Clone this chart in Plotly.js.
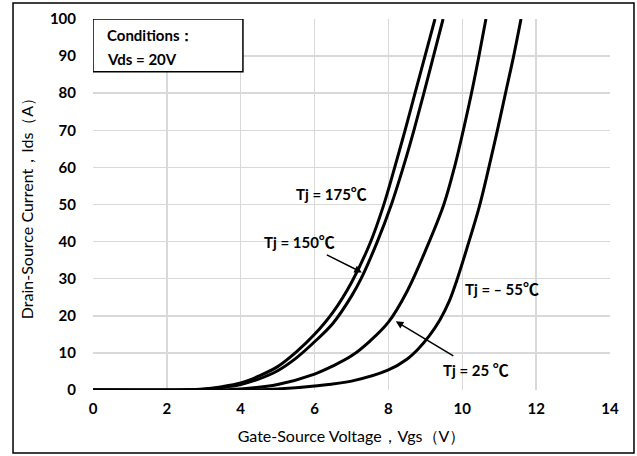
<!DOCTYPE html>
<html>
<head>
<meta charset="utf-8">
<script src="https://cdn.plot.ly/plotly-3.0.1.min.js"></script>
<style>html,body{margin:0;padding:0;background:#fff;}#chart{width:637px;height:456px;}</style>
</head>
<body>
<div id="chart"></div>
<script>
// Series: Vgs (V) vs Ids (A) for each junction temperature
var vgs175 = [0, 2, 2.5, 3, 3.5, 4, 4.5, 5, 5.5, 6, 6.5, 7, 7.5, 7.86, 8.17, 8.45, 8.72, 8.99, 9.26];
var ids175 = [0, 0, 0.05, 0.3, 0.9, 1.9, 3.8, 6.3, 10.2, 15, 21, 29, 39.5, 49.5, 60, 70, 80, 90, 100];
var vgs150 = [0, 2, 2.5, 3, 3.5, 4, 4.5, 5, 5.5, 6, 6.5, 7, 7.26, 7.7, 8.08, 8.4, 8.69, 8.96, 9.22, 9.48];
var ids150 = [0, 0, 0.03, 0.2, 0.7, 1.5, 3.0, 5.2, 8.6, 13, 18, 25.3, 30, 40, 50, 60, 70, 80, 90, 100];
var vgs25 = [0, 3, 4, 5, 6, 6.5, 7, 7.5, 8, 8.5, 9, 9.5, 9.8, 10.05, 10.27, 10.46, 10.64];
var ids25 = [0, 0, 0.3, 1.5, 4.3, 6.5, 9.2, 13.2, 18.3, 26.5, 37.5, 50, 60.5, 71, 81, 90.5, 100];
var vgsM55 = [0, 4, 5, 6, 7, 8, 8.5, 8.8, 9.1, 9.4, 9.65, 9.85, 10.15, 10.45, 10.72, 10.95, 11.17, 11.39, 11.59];
var idsM55 = [0, 0, 0.3, 1.1, 2.4, 5.4, 8.3, 11, 14.5, 19, 24, 29.5, 39, 49, 60, 70, 80, 90, 100];

var xTicks = [0, 2, 4, 6, 8, 10, 12, 14];
var yTicks = [0, 10, 20, 30, 40, 50, 60, 70, 80, 90, 100];

var labelFont = "Lato, 'Open Sans', sans-serif";
var lineStyle = {color: '#000', width: 3, shape: 'spline', smoothing: 1};

function tr(x, y) {
  return {x: x, y: y, mode: 'lines', line: lineStyle, showlegend: false, hoverinfo: 'skip'};
}

var data = [tr(vgs175, ids175), tr(vgs150, ids150), tr(vgs25, ids25), tr(vgsM55, idsM55)];

var annFont = {family: labelFont, size: 15, color: '#000', weight: 'bold'};
var deg = "<span style=\"font-family:'Noto Sans CJK SC';font-size:16px\">℃</span>";

var layout = {
  width: 637, height: 456,
  margin: {l: 93, r: 27, t: 19, b: 66},
  paper_bgcolor: '#fff', plot_bgcolor: '#fff',
  font: {family: labelFont, color: '#000'},
  xaxis: {
    range: [0, 14], tickvals: xTicks, ticktext: xTicks.map(String),
    showgrid: true, gridcolor: '#d9d9d9', gridwidth: 1.5,
    zeroline: false, showline: false, ticks: '',
    tickfont: {family: labelFont, size: 15, weight: 'bold'},
    ticklabelstandoff: 8,
    title: {text: 'Gate-Source Voltage，Vgs（V）', font: {family: labelFont, size: 16}, standoff: 14}
  },
  yaxis: {
    range: [0, 100], tickvals: yTicks, ticktext: yTicks.map(String),
    showgrid: true, gridcolor: '#d9d9d9', gridwidth: 1.5,
    zeroline: false, showline: false, ticks: '',
    tickfont: {family: labelFont, size: 15, weight: 'bold'},
    ticklabelstandoff: 16,
    title: {text: 'Drain-Source Current，Ids（A）', font: {family: labelFont, size: 16}, standoff: 12}
  },
  shapes: [
    {type: 'rect', xref: 'paper', yref: 'paper', x0: -0.1547, x1: 1.0464, y0: -0.1698, y1: 1.0431,
     line: {color: '#000', width: 1.5}, fillcolor: 'rgba(0,0,0,0)', layer: 'above'},
    {type: 'rect', xref: 'x', yref: 'y', x0: 0, x1: 4.06, y0: 85.8, y1: 100,
     line: {color: '#000', width: 1.5}, fillcolor: '#fff', layer: 'above'}
  ],
  annotations: [
    {xref: 'paper', yref: 'paper', x: (105 - 93) / 517, y: (390 - 35) / 371, xanchor: 'left', yanchor: 'middle',
     text: 'Conditions：', showarrow: false, font: annFont},
    {xref: 'paper', yref: 'paper', x: (105 - 93) / 517, y: (390 - 59) / 371, xanchor: 'left', yanchor: 'middle',
     text: 'Vds = 20V', showarrow: false, font: annFont},
    {xref: 'paper', yref: 'paper', x: (331 - 93) / 517, y: (390 - 193) / 371, xanchor: 'center', yanchor: 'middle',
     text: 'Tj = 175' + deg, showarrow: false, font: annFont},
    {xref: 'x', yref: 'y', x: 7.28, y: 31.7, ax: -62, ay: -31, text: 'Tj = 150' + deg,
     showarrow: true, arrowhead: 2, arrowsize: 1, arrowwidth: 1.5, arrowcolor: '#000', font: annFont},
    {xref: 'paper', yref: 'paper', x: (502 - 93) / 517, y: (390 - 288) / 371, xanchor: 'center', yanchor: 'middle',
     text: 'Tj = ‒ 55' + deg, showarrow: false, font: annFont},
    {xref: 'x', yref: 'y', x: 8.2, y: 18.5, ax: 80, ay: 48, text: 'Tj = 25 ' + deg,
     showarrow: true, arrowhead: 2, arrowsize: 1, arrowwidth: 1.5, arrowcolor: '#000', font: annFont}
  ]
};

Plotly.newPlot('chart', data, layout, {staticPlot: true, displayModeBar: false});
</script>
</body>
</html>
